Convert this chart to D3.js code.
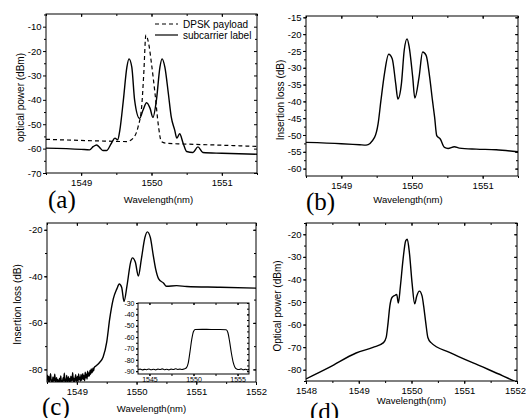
<!DOCTYPE html>
<html>
<head>
<meta charset="utf-8">
<script src="https://cdn.jsdelivr.net/npm/d3@7"></script>
<style>
  body { margin: 0; background: #fff; }
  svg { display: block; font-family: "Liberation Sans", Arial, sans-serif; }
</style>
</head>
<body>
<div id="content"></div>
<script>
var width = 526;
var height = 418;

// (a) DPSK payload vs subcarrier label spectra
var payloadA = [[1548.5,-56.2],[1549.2,-56.8],[1549.65,-57.1],[1549.74,-55.7],[1549.81,-51],[1549.86,-42.9],
    [1549.89,-29.3],[1549.92,-13.5],[1549.96,-17],[1550.0,-25.2],[1550.05,-37.4],[1550.1,-51],
    [1550.14,-57.1],[1550.21,-57.8],[1550.45,-58.1],[1551.0,-58.6],[1551.5,-59.1]];
var labelA = [[1548.5,-59.8],[1549.0,-60.3],[1549.12,-60.5],[1549.17,-59.2],[1549.22,-58.5],[1549.27,-59.8],
    [1549.31,-60.8],[1549.36,-60.8],[1549.43,-57.8],[1549.48,-55.7],[1549.52,-56.4],[1549.55,-52.4],
    [1549.6,-40.1],[1549.65,-26.6],[1549.68,-23.2],[1549.72,-26.6],[1549.76,-40.1],[1549.83,-47.6],
    [1549.88,-44.2],[1549.93,-41.2],[1549.98,-43.5],[1550.02,-47.2],[1550.07,-40.1],[1550.12,-26.6],
    [1550.15,-23.2],[1550.19,-26.6],[1550.24,-37.5],[1550.28,-46.9],[1550.33,-52.4],[1550.36,-55.7],
    [1550.4,-53.9],[1550.45,-57.8],[1550.5,-61.2],[1550.59,-61.6],[1550.66,-59.3],[1550.73,-61.6],
    [1551.0,-61.9],[1551.5,-62.3]];

// (b) filter insertion loss
var lossB = [[1548.5,-52.2],[1549.0,-52.6],[1549.26,-52.9],[1549.35,-53.0],[1549.47,-50.7],[1549.52,-46.7],
    [1549.56,-39.8],[1549.61,-31.8],[1549.67,-26.0],[1549.72,-27.3],[1549.77,-34.8],[1549.8,-39.3],
    [1549.85,-34.8],[1549.89,-24.8],[1549.93,-21.4],[1549.96,-23.8],[1550.01,-32.8],[1550.04,-39],
    [1550.1,-32.8],[1550.15,-25.3],[1550.2,-26.3],[1550.25,-32.8],[1550.29,-39.8],[1550.32,-44.7],
    [1550.35,-50.2],[1550.4,-51.2],[1550.46,-53.7],[1550.51,-54.0],[1550.6,-53.5],[1550.67,-53.9],
    [1550.91,-54.2],[1551.19,-54.4],[1551.5,-55.0]];

// (c) insertion loss, noisy floor read from 1548.50 in 0.01 nm steps
var noiseStartC = 1548.5;
var noiseC = [-84.8,-82.5,-85.2,-83.0,-85.3,-84.0,-81.8,-85.2,-84.6,-85.3,
    -83.2,-85.1,-84.7,-82.0,-85.3,-85.0,-83.6,-85.2,-84.4,-85.3,
    -85.1,-83.9,-85.3,-82.8,-85.2,-84.9,-85.3,-83.5,-85.0,-81.6,
    -85.3,-84.2,-85.1,-82.6,-85.3,-84.8,-83.1,-85.2,-84.0,-85.3,
    -82.9,-85.0,-84.5,-81.4,-85.2,-83.8,-85.3,-84.1,-82.3,-85.1,
    -84.6,-83.0,-85.2,-81.9,-84.4,-83.3,-85.0,-82.2,-84.7,-83.5,
    -81.8,-84.3,-82.7,-84.9,-81.2,-83.6,-82.0,-84.1,-80.8,-83.0,
    -81.5,-82.8,-80.4,-82.1,-79.8,-81.4,-80.9,-79.5,-80.6,-79.2];
var lossC = [[1549.33,-78.3],[1549.38,-77],[1549.44,-74.7],[1549.5,-68.3],[1549.55,-58.3],[1549.61,-49.7],
    [1549.67,-45.4],[1549.71,-43.3],[1549.75,-44.7],[1549.79,-50.8],[1549.84,-44],[1549.9,-34],
    [1549.93,-32.1],[1549.98,-34],[1550.03,-39.9],[1550.08,-32.6],[1550.14,-23.3],[1550.18,-20.9],
    [1550.23,-23.3],[1550.28,-31.1],[1550.32,-36.9],[1550.37,-41.1],[1550.45,-42.9],[1550.5,-44.3],
    [1550.67,-44],[1550.84,-44.4],[1551.4,-44.7],[1552.0,-45.1]];
var insetC = [[1543.7,-88.6],[1543.95,-88.2],[1544.2,-88.9],[1544.45,-88.4],[1544.7,-88.7],[1544.95,-88.1],
    [1545.2,-88.8],[1545.45,-88.3],[1545.7,-88.9],[1545.95,-88.2],[1546.2,-88.6],[1546.45,-88.0],
    [1546.7,-88.7],[1546.95,-88.3],[1547.2,-88.9],[1547.45,-88.2],[1547.7,-88.6],[1547.95,-87.9],
    [1548.2,-88.5],[1548.45,-88.2],[1548.7,-88.6],[1548.95,-88.0],[1549.2,-87.0],[1549.4,-83],
    [1549.6,-73],[1549.8,-62],[1550.0,-55],[1550.2,-53.3],[1551,-53.2],[1552,-53.3],[1553,-53.3],
    [1553.7,-53.6],[1553.9,-56],[1554.1,-64],[1554.3,-74],[1554.5,-82],[1554.7,-86.5],[1554.9,-88.1],
    [1555.15,-88.6],[1555.4,-88.0],[1555.65,-88.8],[1555.9,-88.3],[1556.1,-88.9],[1556.3,-88.4]];

// (d) optical power after filtering
var powerD = [[1548.0,-84.1],[1548.44,-79.0],[1548.95,-72.6],[1549.27,-70.1],[1549.47,-68.0],[1549.52,-65.7],
    [1549.55,-60.5],[1549.59,-51.7],[1549.63,-48],[1549.69,-47],[1549.72,-46.6],[1549.75,-50.5],
    [1549.79,-42.9],[1549.84,-31.1],[1549.89,-22.9],[1549.92,-22.2],[1549.96,-28.1],[1550.01,-41.4],
    [1550.06,-50.8],[1550.1,-47.3],[1550.15,-45.2],[1550.2,-47.3],[1550.23,-51.7],[1550.27,-59.1],
    [1550.31,-65.7],[1550.37,-68.0],[1550.72,-72.3],[1551.29,-78.2],[1551.73,-82.7],[1552.0,-85.6]];

var svg = d3.select('div#content').append('svg')
    .attr('width', width)
    .attr('height', height);

var line = function(x, y) {
    return d3.line().curve(d3.curveMonotoneX)
        .x(function(d){ return x(d[0]); }).y(function(d){ return y(d[1]); });
};

function range(a, b, s) {
    var out = [];
    for (var v = a; v <= b + 1e-9; v += s) out.push(Math.round(v * 1000) / 1000);
    return out;
}

function drawPanel(p) {
    var g = svg.append('g');
    var x = d3.scaleLinear().domain(p.xd).range([p.l, p.r]);
    var y = d3.scaleLinear().domain(p.yd).range([p.b, p.t]);
    var fs = p.fs || 9.5;
    var inX = function(v){ return v >= p.xd[0] - 1e-9 && v <= p.xd[1] + 1e-9; };
    var inY = function(v){ return v >= p.yd[0] - 1e-9 && v <= p.yd[1] + 1e-9; };
    var xMaj = p.xMaj.filter(inX), xMin = p.xMin.filter(inX);
    var yMaj = p.yMaj.filter(inY), yMin = p.yMin.filter(inY);
    var mj = p.tick || 3, mn = 2;

    if (p.bg) {
        g.append('rect').attr('x', p.l).attr('y', p.t)
            .attr('width', p.r - p.l).attr('height', p.b - p.t).attr('fill', '#fff');
    }

    function ax(gen, tr, vals, size, lab, pad) {
        var a = g.append('g').attr('transform', tr)
            .call(gen.tickValues(vals).tickSize(size).tickPadding(pad || 2)
                .tickFormat(lab ? function(d){ return String(d); } : ''));
        a.select('.domain').remove();
        a.selectAll('line').attr('stroke', '#000');
        a.selectAll('text').attr('font-size', fs).attr('fill', '#000')
            .attr('font-family', '"Liberation Sans", Arial, sans-serif');
        return a;
    }
    var bx = ax(d3.axisBottom(x), 'translate(0,' + p.b + ')', xMaj, mj, true, p.padX || 3);
    if (p.lastShift) {
        bx.selectAll('text').filter(function(d){ return d === xMaj[xMaj.length - 1]; })
            .attr('dx', p.lastShift);
    }
    ax(d3.axisBottom(x), 'translate(0,' + p.b + ')', xMin, mn, false);
    ax(d3.axisTop(x), 'translate(0,' + p.t + ')', xMaj, -mj, false);
    ax(d3.axisTop(x), 'translate(0,' + p.t + ')', xMin, -mn, false);
    ax(d3.axisLeft(y), 'translate(' + p.l + ',0)', yMaj, mj, true, 1.5);
    ax(d3.axisLeft(y), 'translate(' + p.l + ',0)', yMin, mn, false);
    ax(d3.axisRight(y), 'translate(' + p.r + ',0)', yMaj, -mj, false);
    ax(d3.axisRight(y), 'translate(' + p.r + ',0)', yMin, -mn, false);

    var clipId = 'clip' + p.id;
    svg.append('clipPath').attr('id', clipId).append('rect')
        .attr('x', p.l).attr('y', p.t).attr('width', p.r - p.l).attr('height', p.b - p.t);

    p.series.forEach(function(s) {
        g.append('path').datum(s.data)
            .attr('clip-path', 'url(#' + clipId + ')')
            .attr('fill', 'none').attr('stroke', '#000')
            .attr('stroke-width', s.w || 1.4)
            .attr('stroke-linejoin', 'round')
            .attr('stroke-dasharray', s.dash || null)
            .attr('d', line(x, y));
    });

    g.append('rect').attr('x', p.l).attr('y', p.t)
        .attr('width', p.r - p.l).attr('height', p.b - p.t)
        .attr('fill', 'none').attr('stroke', '#000').attr('stroke-width', 1);

    if (p.xTitle) {
        g.append('text').attr('x', (p.l + p.r) / 2 + p.xTitle[0]).attr('y', p.xTitle[1])
            .attr('text-anchor', 'middle').attr('font-size', 9.5).text('Wavelength(nm)');
    }
    if (p.yTitle) {
        g.append('text')
            .attr('transform', 'translate(' + p.yTitle[1] + ',' + ((p.t + p.b) / 2 + p.yTitle[2]) + ') rotate(-90)')
            .attr('text-anchor', 'middle').attr('font-size', 10).text(p.yTitle[0]);
    }
    if (p.tag) {
        g.append('text').attr('x', p.tag[1]).attr('y', p.tag[2])
            .attr('font-family', '"Liberation Serif", "Times New Roman", serif')
            .attr('font-size', 25).text(p.tag[0]);
    }
    return {x: x, y: y, g: g};
}

var noisyC = noiseC.map(function(v, i){ return [noiseStartC + i * 0.01, v]; }).concat(lossC);

var pa = drawPanel({id: 'a', l: 46, r: 257, t: 14, b: 173,
    xd: [1548.5, 1551.5], yd: [-70, -4.8],
    xMaj: [1549, 1550, 1551], xMin: range(1548.5, 1551.5, 0.5),
    yMaj: range(-70, -10, 10), yMin: range(-65, -5, 10),
    series: [{data: payloadA, dash: '4,3', w: 1.2}, {data: labelA}],
    xTitle: [7, 203], yTitle: ['optical power (dBm)', 24, 4], tag: ['(a)', 48, 208]});

// legend for (a)
var legA = [['DPSK payload', '4,3'], ['subcarrier label', null]];
legA.forEach(function(d, i) {
    var yy = 24 + i * 11;
    pa.g.append('line').attr('x1', 155).attr('x2', 178).attr('y1', yy).attr('y2', yy)
        .attr('stroke', '#000').attr('stroke-width', 1.2).attr('stroke-dasharray', d[1]);
    pa.g.append('text').attr('x', 183).attr('y', yy + 3.5).attr('font-size', 10).text(d[0]);
});

drawPanel({id: 'b', l: 306, r: 518, t: 16, b: 176,
    xd: [1548.5, 1551.5], yd: [-62.2, -14.6],
    xMaj: [1549, 1550, 1551], xMin: range(1548.5, 1551.5, 0.5),
    yMaj: range(-60, -15, 5), yMin: range(-62.5, -15, 2.5),
    series: [{data: lossB}],
    xTitle: [-4, 203], yTitle: ['Insertion loss (dB)', 284, 4], tag: ['(b)', 306, 210]});

drawPanel({id: 'c', l: 47, r: 256, t: 223, b: 382,
    xd: [1548.5, 1552], yd: [-85.4, -17.1],
    xMaj: [1549, 1550, 1551, 1552], xMin: range(1548.5, 1552, 0.5),
    yMaj: [-80, -60, -40, -20], yMin: range(-80, -20, 10),
    series: [{data: noisyC}],
    xTitle: [0, 412], yTitle: ['Insertion loss (dB)', 21, 2], tag: ['(c)', 42, 415]});

drawPanel({id: 'ci', l: 138, r: 249, t: 303, b: 374,
    xd: [1543.7, 1556.3], yd: [-92.5, -30],
    xMaj: [1545, 1550, 1555], xMin: range(1545, 1555, 2.5),
    yMaj: range(-90, -30, 10), yMin: range(-90, -30, 5),
    series: [{data: insetC, w: 1.1}], fs: 7, tick: 2, padX: 1, bg: true});

drawPanel({id: 'd', l: 306, r: 517, t: 223, b: 381,
    xd: [1548, 1552], yd: [-85, -15],
    xMaj: [1548, 1549, 1550, 1551, 1552], xMin: range(1548, 1552, 0.5),
    yMaj: range(-80, -20, 10), yMin: range(-85, -15, 5),
    series: [{data: powerD}], lastShift: -2,
    xTitle: [0, 404], yTitle: ['Optical power (dBm)', 281, 4], tag: ['(d)', 310, 420]});
</script>
</body>
</html>
